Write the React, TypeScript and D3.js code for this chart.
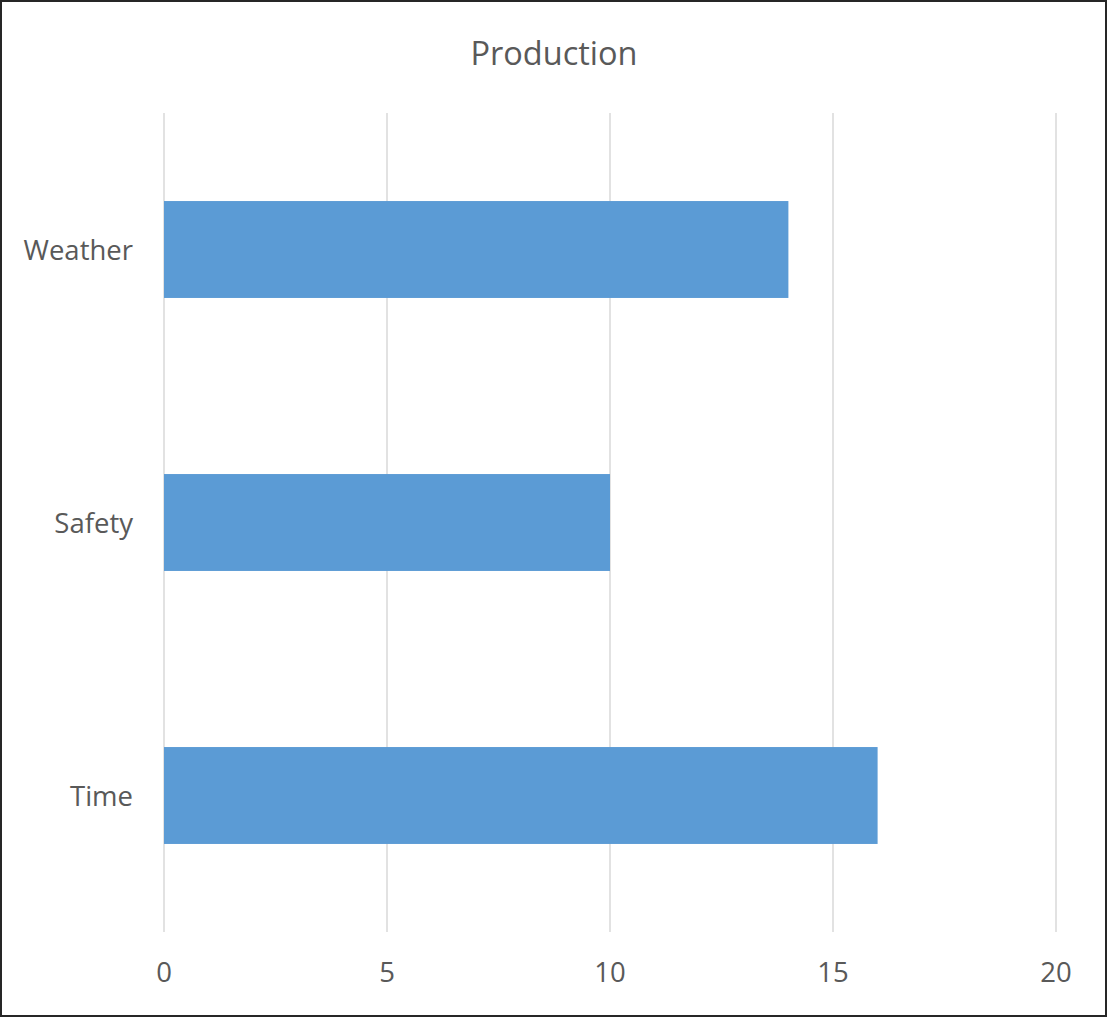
import React from "react";
import * as d3 from "d3";

const categories = ["Weather", "Safety", "Time"];
const values = [14, 10, 16];
const xTicks = [0, 5, 10, 15, 20];
const title = "Production";

const W = 1108;
const H = 1017;
const FONT = "'Open Sans', 'Liberation Sans', sans-serif";
const TEXT = "#595959";

export default function App() {
  const x = d3.scaleLinear().domain([0, 20]).range([164, 1056]);
  const y = d3
    .scaleBand<string>()
    .domain(categories)
    .range([113, 932])
    .paddingInner(0.645)
    .paddingOuter(0.3225);

  return (
    <svg
      width={W}
      height={H}
      style={{ position: "absolute", left: 0, top: 0, background: "#fff" }}
    >
      <rect x={0} y={0} width={W} height={H} fill="#fff" />
      <rect
        x={1}
        y={1}
        width={1105}
        height={1015}
        fill="none"
        stroke="#262626"
        strokeWidth={2}
      />
      <text
        x={554}
        y={65}
        textAnchor="middle"
        fontFamily={FONT}
        fontSize={32.5}
        fill={TEXT}
      >
        {title}
      </text>
      {xTicks.map((t) => (
        <line
          key={"g" + t}
          x1={x(t)}
          x2={x(t)}
          y1={113}
          y2={932}
          stroke="#d9d9d9"
          strokeWidth={1.5}
        />
      ))}
      {categories.map((c, i) => (
        <rect
          key={c}
          x={x(0)}
          y={y(c)}
          width={x(values[i]) - x(0)}
          height={y.bandwidth()}
          fill="#5b9bd5"
        />
      ))}
      {xTicks.map((t) => (
        <text
          key={"t" + t}
          x={x(t)}
          y={982}
          textAnchor="middle"
          fontFamily={FONT}
          fontSize={27.5}
          fill={TEXT}
        >
          {t}
        </text>
      ))}
      {categories.map((c) => (
        <text
          key={"l" + c}
          x={133}
          y={(y(c) ?? 0) + y.bandwidth() / 2 + 10}
          textAnchor="end"
          fontFamily={FONT}
          fontSize={27.5}
          fill={TEXT}
        >
          {c}
        </text>
      ))}
    </svg>
  );
}
